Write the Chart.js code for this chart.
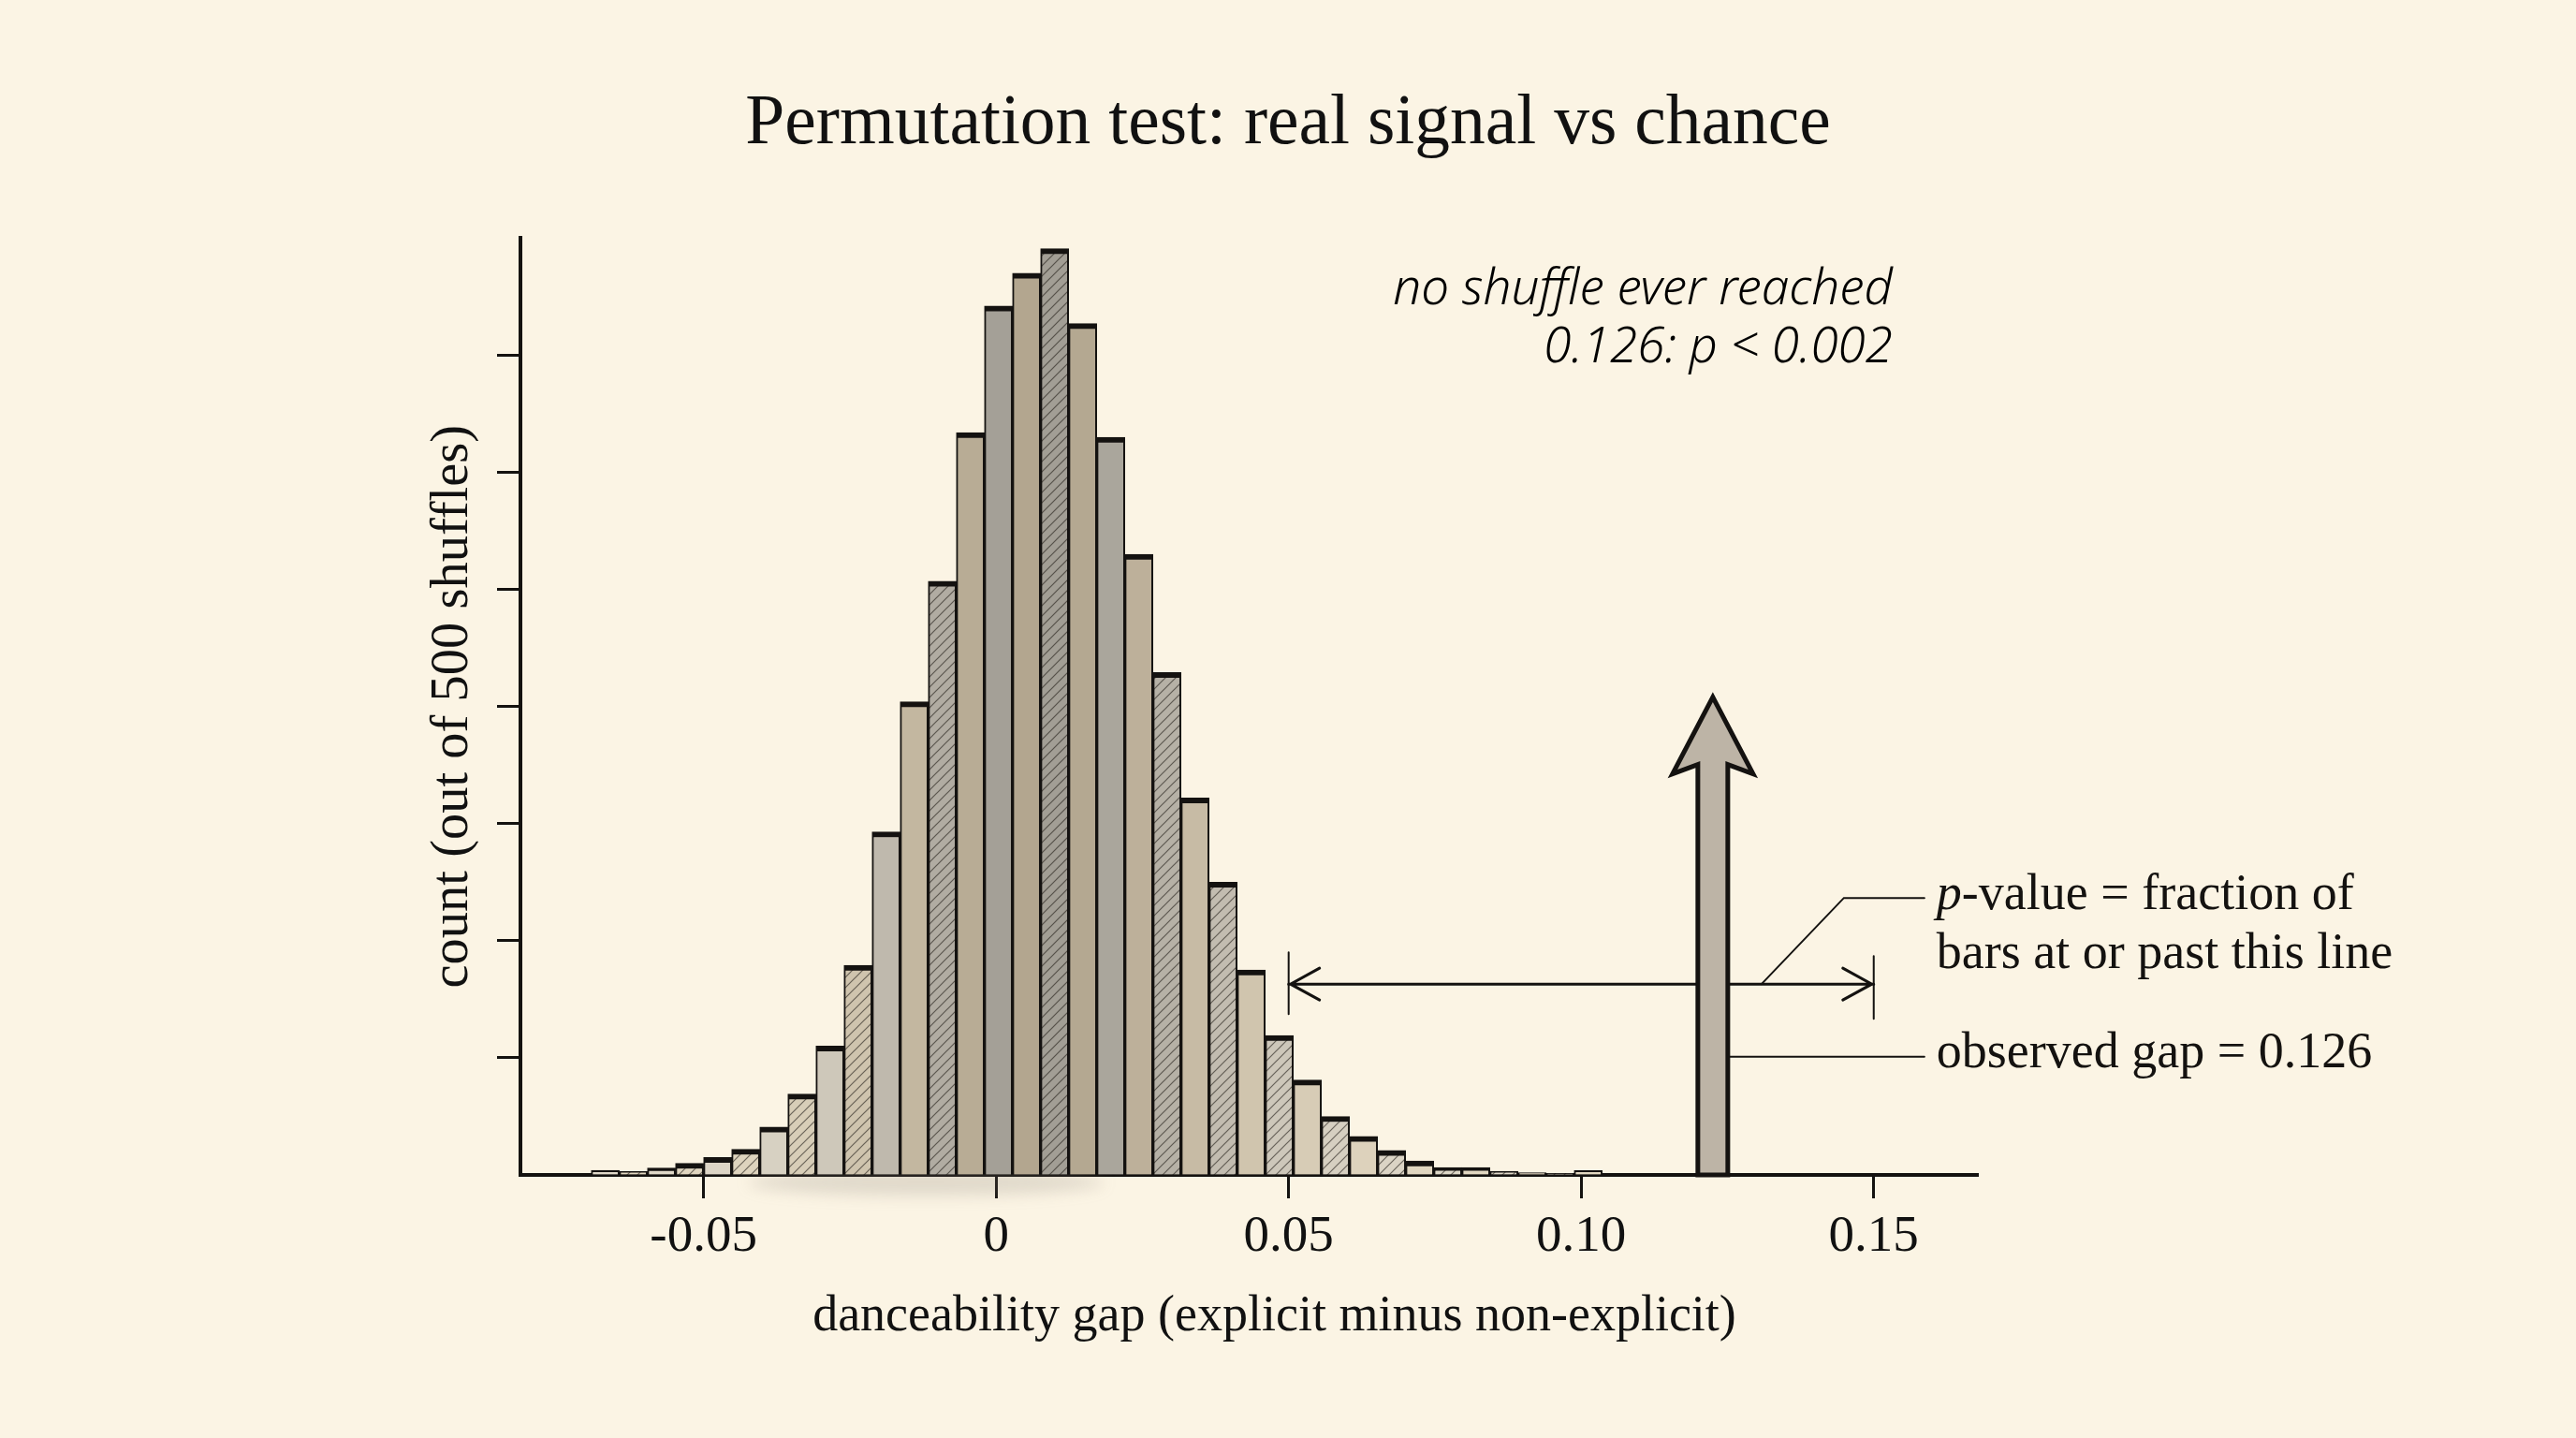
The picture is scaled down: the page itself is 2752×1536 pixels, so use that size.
<!DOCTYPE html>
<html>
<head>
<meta charset="utf-8">
<script src="https://cdn.jsdelivr.net/npm/chart.js@4.4.1/dist/chart.umd.min.js"></script>
<style>
  html, body { margin: 0; padding: 0; background: #fbf4e4; }
  #wrap { width: 2752px; height: 1536px; }
</style>
</head>
<body>
<div id="wrap"><canvas id="histChart" width="2752" height="1536"></canvas></div>
<script>
// bin centres of the permutation histogram (bin width 0.0048)
const binCenters = [
  -0.0668, -0.0620, -0.0572, -0.0524, -0.0476, -0.0428, -0.0380, -0.0332, -0.0284,
  -0.0236, -0.0188, -0.0140, -0.0092, -0.0044, 0.0004, 0.0052, 0.0100, 0.0148,
  0.0196, 0.0244, 0.0292, 0.0340, 0.0388, 0.0436, 0.0484, 0.0532, 0.0580,
  0.0628, 0.0676, 0.0724, 0.0772, 0.0820, 0.0868, 0.0916, 0.0964, 0.1012
];
const shuffleCounts = [
  0.4, 0.3, 0.6, 1.0, 1.5, 2.2, 4.1, 6.9, 11.0,
  17.9, 29.3, 40.4, 50.7, 63.4, 74.2, 77.0, 79.1, 72.7,
  63.0, 53.0, 42.9, 32.2, 25.0, 17.5, 11.9, 8.1, 5.0,
  3.3, 2.1, 1.2, 0.64, 0.64, 0.32, 0.2, 0.1, 0.37
];
const xTickValues = [-0.05, 0, 0.05, 0.10, 0.15];
const xTickLabels = ["-0.05", "0", "0.05", "0.10", "0.15"];

// annotation anchors, in data units
const observedMarkX = 0.1225;
const arrowTop = 40.8;
const bracketFrom = 0.05;
const bracketTo = 0.15;
const bracketLevel = 16.3;
const observedLeaderLevel = 10.1;

const serif = '"Liberation Serif", "Times New Roman", serif';
const ink = "#141210";

function mix(a, b, t) {
  const pa = a.match(/\w\w/g).map(h => parseInt(h, 16));
  const pb = b.match(/\w\w/g).map(h => parseInt(h, 16));
  return "rgb(" + pa.map((v, i) => Math.round(v + (pb[i] - v) * t)).join(",") + ")";
}

function makeFill(color, hatched) {
  if (!hatched) return color;
  const c = document.createElement("canvas");
  c.width = 11; c.height = 11;
  const g = c.getContext("2d");
  g.fillStyle = color;
  g.fillRect(0, 0, 11, 11);
  g.strokeStyle = "rgba(35,30,25,0.6)";
  g.lineWidth = 1.2;
  g.beginPath();
  g.moveTo(0, 11); g.lineTo(11, 0);
  g.moveTo(-5.5, 5.5); g.lineTo(5.5, -5.5);
  g.moveTo(5.5, 16.5); g.lineTo(16.5, 5.5);
  g.stroke();
  return g.createPattern(c, "repeat");
}

const peak = Math.max(...shuffleCounts);
const barFills = shuffleCounts.map((v, i) => {
  const k = i - 4;
  const t = Math.min(1, Math.pow(v / peak, 0.6));
  const col = i % 2 === 0 ? mix("e2dbcb", "a29e95", t) : mix("e4dac4", "b2a58e", t);
  const hatched = (k < 7 && k % 2 !== 0) || (k >= 8 && k % 2 === 0 && k !== 10 && k !== 14);
  return makeFill(col, hatched);
});

const paper = {
  id: "paper",
  beforeDraw(chart) {
    const { ctx, width, height } = chart;
    ctx.save();
    ctx.fillStyle = "#fbf4e4";
    ctx.fillRect(0, 0, width, height);
    ctx.restore();
  },
  beforeDatasetsDraw(chart) {
    // faint wash bleeding under the baseline
    const { ctx, scales: { x, y } } = chart;
    const x0 = x.getPixelForValue(-0.012);
    const y0 = y.getPixelForValue(0);
    ctx.save();
    ctx.filter = "blur(8px)";
    ctx.fillStyle = "rgba(130,124,112,0.22)";
    ctx.beginPath();
    ctx.ellipse(x0, y0 + 8, 190, 14, 0, 0, Math.PI * 2);
    ctx.fill();
    ctx.restore();
  }
};

const annotations = {
  id: "annotations",
  afterDatasetsDraw(chart) {
    const { ctx, chartArea, scales: { x, y } } = chart;
    const ax = x.getPixelForValue(observedMarkX);
    const base = y.getPixelForValue(0);
    const tip = y.getPixelForValue(arrowTop);
    const by = y.getPixelForValue(bracketLevel);
    const bl = x.getPixelForValue(bracketFrom);
    const br = x.getPixelForValue(bracketTo);
    const oy = y.getPixelForValue(observedLeaderLevel);
    ctx.save();
    ctx.strokeStyle = ink;
    ctx.lineCap = "round";

    // bracket: 0.05 ... 0.15
    ctx.lineWidth = 3;
    ctx.beginPath();
    ctx.moveTo(bl, by); ctx.lineTo(br, by);
    ctx.moveTo(bl + 33, by - 17); ctx.lineTo(bl + 2, by); ctx.lineTo(bl + 33, by + 17);
    ctx.moveTo(br - 33, by - 17); ctx.lineTo(br - 2, by); ctx.lineTo(br - 33, by + 17);
    ctx.stroke();
    ctx.lineWidth = 2;
    ctx.beginPath();
    ctx.moveTo(bl, by - 34); ctx.lineTo(bl, by + 32);
    ctx.moveTo(br, by - 30); ctx.lineTo(br, by + 37);
    ctx.stroke();

    // leader lines
    ctx.lineWidth = 2;
    ctx.beginPath();
    ctx.moveTo(ax + 52, by);
    ctx.lineTo(ax + 140, by - 92);
    ctx.lineTo(ax + 226, by - 92);
    ctx.moveTo(ax + 18, oy);
    ctx.lineTo(ax + 226, oy);
    ctx.stroke();

    // observed gap arrow
    ctx.beginPath();
    ctx.moveTo(ax, tip);
    ctx.lineTo(ax + 43, tip + 82);
    ctx.lineTo(ax + 16, tip + 72);
    ctx.lineTo(ax + 16, base);
    ctx.lineTo(ax - 16, base);
    ctx.lineTo(ax - 16, tip + 72);
    ctx.lineTo(ax - 43, tip + 82);
    ctx.closePath();
    ctx.fillStyle = "#bdb4a6";
    ctx.fill();
    ctx.lineWidth = 5;
    ctx.lineJoin = "miter";
    ctx.lineCap = "butt";
    ctx.stroke();

    // labels on the right
    const tx = ax + 239;
    ctx.fillStyle = ink;
    ctx.textAlign = "left";
    ctx.textBaseline = "middle";
    ctx.font = "italic 54px " + serif;
    ctx.fillText("p", tx, by - 94);
    const pw = ctx.measureText("p").width;
    ctx.font = "54px " + serif;
    ctx.fillText("-value = fraction of", tx + pw, by - 94);
    ctx.fillText("bars at or past this line", tx, by - 31);
    ctx.fillText("observed gap = 0.126", tx, oy - 3);

    // handwritten note, top right
    ctx.font = 'italic 300 53px "Noto Sans", "Open Sans", sans-serif';
    ctx.textAlign = "right";
    ctx.textBaseline = "alphabetic";
    ctx.fillStyle = "#000000";
    ctx.fillText("no shuffle ever reached", chartArea.right - 91, chartArea.top + 71);
    ctx.fillText("0.126: p < 0.002", chartArea.right - 91, chartArea.top + 133);
    ctx.restore();
  }
};

const axisFont = { family: serif, size: 54, weight: "normal", lineHeight: 1.2 };

new Chart(document.getElementById("histChart"), {
  type: "bar",
  data: {
    datasets: [{
      label: "shuffles",
      data: binCenters.map((c, i) => ({ x: c, y: shuffleCounts[i] })),
      yAxisID: "y",
      backgroundColor: barFills,
      borderColor: ink,
      borderWidth: { top: 6, left: 2, right: 2, bottom: 0 },
      borderSkipped: "bottom",
      barPercentage: 1,
      categoryPercentage: 1
    }]
  },
  options: {
    responsive: false,
    animation: false,
    layout: { padding: { left: 416, right: 416, top: 0, bottom: 81 } },
    plugins: {
      legend: { display: false },
      tooltip: { enabled: false },
      title: {
        display: true,
        text: "Permutation test: real signal vs chance",
        color: "#111",
        font: { family: serif, size: 75.5, weight: "normal", lineHeight: 1.2 },
        padding: { top: 88, bottom: 75.8 }
      }
    },
    scales: {
      x: {
        type: "linear",
        min: -0.0813,
        max: 0.1678,
        offset: false,
        afterBuildTicks: s => { s.ticks = xTickValues.map(v => ({ value: v })); },
        afterFit: s => { s.height = 200; },
        ticks: {
          callback: (v, i) => xTickLabels[i],
          font: { family: serif, size: 55, weight: "normal", lineHeight: 1.2 },
          color: "#111",
          padding: 9,
          maxRotation: 0,
          autoSkip: false
        },
        grid: { offset: false, drawOnChartArea: false, drawTicks: true, tickLength: 25, tickWidth: 3, tickColor: ink },
        border: { display: true, color: ink, width: 4 },
        title: {
          display: true,
          text: "    danceability gap (explicit minus non-explicit)",
          font: axisFont,
          color: "#111",
          padding: { top: 0, bottom: 16 }
        }
      },
      y: {
        position: "left",
        min: 0,
        max: 80,
        ticks: { stepSize: 10, display: false },
        afterFit: s => { s.width = 140; },
        grid: {
          drawOnChartArea: false,
          drawTicks: true,
          tickLength: 25,
          tickWidth: 3,
          tickColor: c => (c.tick && (c.tick.value === 0 || c.tick.value === 80)) ? "rgba(0,0,0,0)" : ink
        },
        border: { display: true, color: ink, width: 4 },
        title: {
          display: true,
          text: "count (out of 500 shuffles)",
          font: { family: serif, size: 56.5, weight: "normal", lineHeight: 1.2 },
          color: "#111",
          padding: { top: 34, bottom: 0 }
        }
      },
      // empty right-hand gutter that keeps the title centred on the page
      gutter: {
        type: "linear",
        position: "right",
        display: true,
        afterFit: s => { s.width = 223; },
        ticks: { display: false },
        grid: { display: false, drawTicks: false },
        border: { display: false }
      }
    }
  },
  plugins: [paper, annotations]
});
</script>
</body>
</html>
